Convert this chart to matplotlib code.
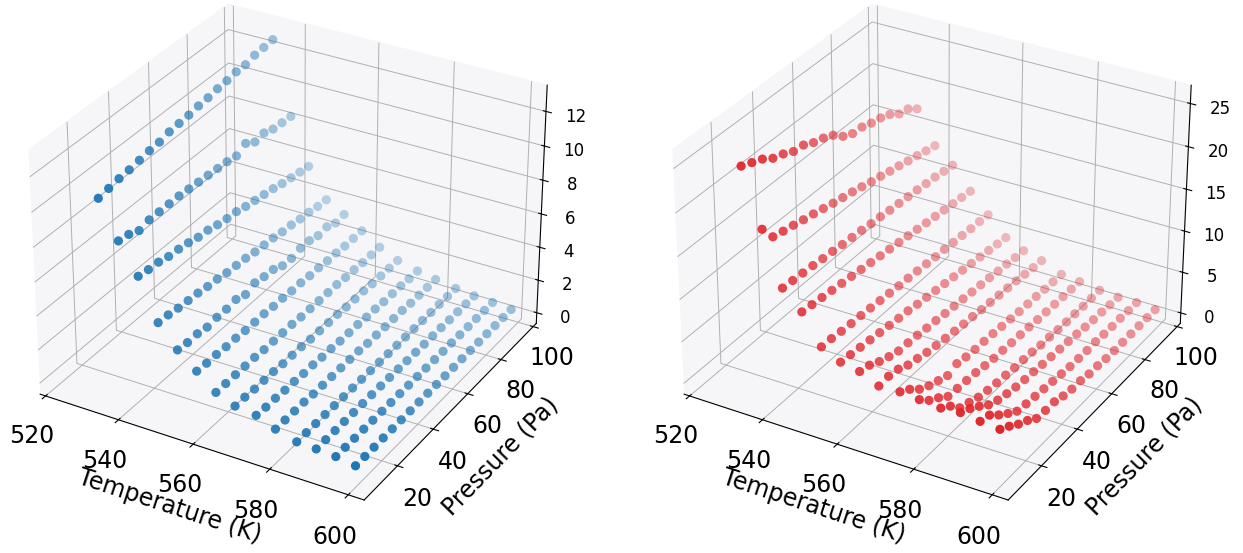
import numpy as np
import matplotlib
matplotlib.use("Agg")
import matplotlib.pyplot as plt

plt.rcParams["grid.linewidth"] = 0.7

pressure = [10, 15, 20, 25, 30, 35, 40, 45, 50, 55, 60, 65, 70, 75, 80, 85, 90, 95, 100]
temperature = [532, 537, 542, 547, 552, 557, 562, 567, 572.5, 577.5, 583, 588, 593, 598]

# one row per temperature
left_z = [
    [10.9, 11.0, 11.1, 11.15, 11.25, 11.35, 11.4, 11.55, 11.6, 11.65, 11.75, 11.8, 11.9, 11.95, 12.05, 12.05, 12.2, 12.25, 12.3],
    [8.8, 8.7, 8.45, 8.6, 8.6, 8.6, 8.6, 8.55, 8.5, 8.45, 8.4, 8.35, 8.25, 8.55, 8.2, 8.3, 8.1, 8.05, 8.0],
    [7.1, 7.0, 6.95, 6.8, 6.75, 6.65, 6.5, 6.45, 6.3, 6.2, 6.15, 6.0, 5.9, 5.8, 5.7, 5.55, 5.45, 5.35, 5.25],
    [4.75, 4.7, 4.6, 4.55, 4.5, 4.4, 4.35, 4.25, 4.2, 4.15, 4.05, 4.0, 3.95, 3.85, 3.8, 3.7, 3.65, 3.55, 3.5],
    [3.5, 3.42, 3.43, 3.32, 3.4, 3.39, 3.47, 3.27, 3.48, 3.37, 3.32, 3.06, 3.03, 3.17, 3.16, 3.0, 3.07, 2.84, 2.9],
    [2.6, 2.55, 2.55, 2.5, 2.5, 2.45, 2.45, 2.45, 2.4, 2.4, 2.35, 2.35, 2.3, 2.3, 2.25, 2.25, 2.2, 2.2, 2.2],
    [1.7, 1.7, 1.7, 1.7, 1.7, 1.65, 1.65, 1.65, 1.65, 1.6, 1.6, 1.6, 1.6, 1.6, 1.55, 1.55, 1.5, 1.5, 1.5],
    [1.25, 1.25, 1.2, 1.2, 1.2, 1.15, 1.15, 1.15, 1.1, 1.1, 1.1, 1.1, 1.05, 1.05, 1.05, 1.0, 1.0, 1.0, 1.0],
    [1.1, 1.05, 1.05, 1.0, 1.0, 0.95, 0.95, 0.9, 0.9, 0.85, 0.85, 0.85, 0.8, 0.8, 0.75, 0.75, 0.75, 0.7, 0.7],
    [0.65, 0.65, 0.65, 0.65, 0.6, 0.6, 0.6, 0.6, 0.6, 0.6, 0.55, 0.55, 0.55, 0.55, 0.55, 0.5, 0.5, 0.5, 0.5],
    [0.3, 0.3, 0.3, 0.3, 0.3, 0.3, 0.3, 0.3, 0.3, 0.3, 0.3, 0.3, 0.3, 0.3, 0.3, 0.3, 0.3, 0.3, 0.3],
    [0.25, 0.25, 0.25, 0.25, 0.25, 0.25, 0.25, 0.25, 0.24, 0.24, 0.22, 0.22, 0.2, 0.2, 0.2, 0.18, 0.18, 0.17, 0.17],
    [0.17, 0.17, 0.16, 0.16, 0.15, 0.15, 0.14, 0.14, 0.13, 0.13, 0.12, 0.12, 0.11, 0.11, 0.1, 0.1, 0.1, 0.1, 0.1],
    [0.0, 0.0, 0.0, 0.0, 0.0, 0.0, 0.0, 0.0, 0.0, 0.0, 0.0, 0.0, 0.0, 0.0, 0.0, 0.0, 0.0, 0.0, 0.0],
]

right_z = [
    [25.5, 25.0, 24.5, 23.7, 23.3, 22.7, 22.55, 21.95, 21.6, 21.05, 20.05, 19.5, 19.4, 19.0, 18.75, 18.3, 17.5, 17.25, 16.4],
    [19.0, 17.2, 16.9, 16.65, 16.35, 16.1, 15.8, 15.5, 15.25, 15.0, 14.7, 14.4, 14.15, 13.85, 13.6, 13.3, 13.05, 12.75, 12.5],
    [12.9, 12.8, 12.7, 12.6, 12.45, 12.35, 12.2, 12.1, 12.0, 11.85, 11.75, 11.6, 11.5, 11.4, 11.3, 11.15, 11.05, 10.85, 10.7],
    [10.8, 10.65, 10.5, 10.35, 10.2, 10.05, 9.9, 9.75, 9.6, 9.45, 9.3, 9.15, 9.0, 8.85, 8.7, 8.55, 8.4, 8.25, 8.1],
    [7.4, 7.35, 7.2, 7.1, 7.05, 6.95, 6.85, 6.75, 6.65, 6.6, 6.5, 6.4, 6.3, 6.25, 6.15, 6.05, 5.95, 5.9, 5.8],
    [6.3, 6.15, 6.0, 5.85, 5.7, 5.55, 5.4, 5.3, 5.1, 4.95, 4.8, 4.65, 4.5, 4.35, 4.2, 4.05, 3.9, 3.75, 3.6],
    [5.9, 5.6, 5.0, 4.55, 4.2, 4.15, 4.05, 3.9, 3.8, 3.65, 3.55, 3.45, 3.3, 3.2, 3.1, 2.95, 2.85, 2.7, 2.6],
    [4.9, 5.0, 4.8, 4.25, 4.0, 3.7, 3.5, 3.35, 3.2, 3.05, 2.95, 2.8, 2.7, 2.6, 2.5, 2.4, 2.25, 2.1, 2.0],
    [5.0, 4.24, 3.2, 2.56, 2.12, 1.68, 2.08, 1.85, 1.74, 1.7, 1.62, 1.5, 1.4, 1.3, 1.25, 1.2, 1.1, 1.05, 1.0],
    [4.8, 3.65, 2.9, 2.0, 1.9, 1.8, 1.7, 1.5, 1.35, 1.3, 1.2, 1.15, 1.1, 1.0, 0.95, 0.9, 0.85, 0.8, 0.75],
    [4.6, 3.76, 2.5, 2.07, 1.63, 1.4, 1.24, 1.13, 0.97, 0.93, 0.82, 0.66, 0.62, 0.51, 0.45, 0.45, 0.4, 0.4, 0.4],
    [4.8, 4.2, 3.4, 2.5, 2.0, 1.7, 1.45, 1.3, 1.2, 1.05, 0.95, 0.85, 0.75, 0.65, 0.5, 0.4, 0.35, 0.25, 0.2],
    [4.5, 4.15, 3.1, 2.2, 1.4, 1.2, 1.05, 0.9, 0.75, 0.6, 0.45, 0.4, 0.35, 0.4, 0.3, 0.25, 0.25, 0.2, 0.2],
    [4.3, 3.58, 2.74, 2.1, 1.26, 1.15, 1.11, 0.75, 0.52, 0.48, 0.25, 0.21, 0.05, 0.0, 0.0, 0.0, 0.0, 0.0, 0.0],
]


def draw(rect, z_rows, colour, zlim, zticks):
    ax = fig.add_axes(rect, projection="3d")
    T, P = np.meshgrid(temperature, pressure, indexing="ij")
    ax.scatter(T.ravel(), P.ravel(), np.array(z_rows).ravel(), c=colour, s=44, linewidths=0)
    ax.set_xlim(518.5, 604, view_margin=0)
    ax.set_ylim(2, 102, view_margin=0)
    ax.set_zlim(zlim[0], zlim[1], view_margin=0)
    ax.set_xticks([520, 540, 560, 580, 600])
    ax.set_yticks([20, 40, 60, 80, 100])
    ax.set_zticks(zticks)
    ax.tick_params(axis="x", labelsize=17, pad=7)
    ax.tick_params(axis="y", labelsize=17, pad=5)
    ax.tick_params(axis="z", labelsize=12, pad=5)
    ax.set_xlabel("Temperature (K)", fontsize=17, labelpad=10)
    ax.set_ylabel("Pressure (Pa)", fontsize=17, labelpad=10)
    for axis in (ax.xaxis, ax.yaxis, ax.zaxis):
        axis.set_pane_color((0.965, 0.965, 0.975, 1.0))
    return ax


fig = plt.figure(figsize=(12.43, 5.53), dpi=100)
draw([-0.0177, 0.03, 0.494, 1.043], left_z, "tab:blue", (-0.66, 13.5), [0, 2, 4, 6, 8, 10, 12])
draw([0.5004, 0.03, 0.494, 1.043], right_z, "#e0262c", (-1.3, 27.1), [0, 5, 10, 15, 20, 25])
fig.savefig("out.png", dpi=100)
